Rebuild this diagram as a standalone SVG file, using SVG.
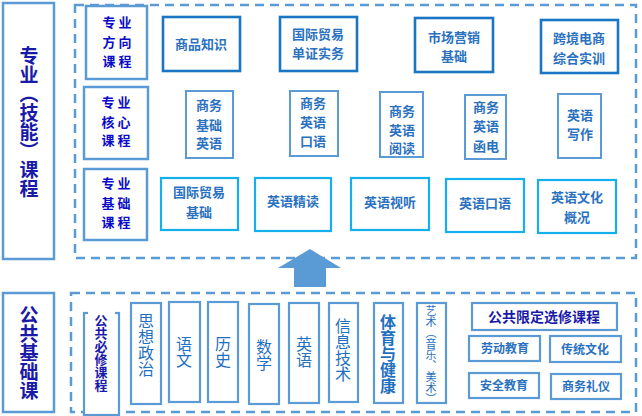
<svg xmlns="http://www.w3.org/2000/svg" width="642" height="416" viewBox="0 0 642 416">
<style>
text{font-family:"Noto Sans CJK SC","Noto Sans",sans-serif;}
.big{font-size:19px;font-weight:bold;fill:#1a1aa8;writing-mode:vertical-rl;text-anchor:middle;letter-spacing:0px;}
.lab{font-size:13px;font-weight:bold;fill:#0a0ac8;text-anchor:middle;}
.c{font-size:13px;font-weight:bold;fill:#2a72c0;text-anchor:middle;}
.v{font-size:16px;fill:#1f70c0;writing-mode:vertical-rl;text-anchor:middle;}
.vs{font-size:11px;fill:#1f70c0;writing-mode:vertical-rl;text-anchor:middle;}
.lb{fill:#fff;stroke:#5b9bd5;stroke-width:2.5;}
.r1{fill:#fff;stroke:#1a75c2;stroke-width:2.6;}
.r2{fill:#fff;stroke:#5b9bd5;stroke-width:2;}
.r3{fill:#fff;stroke:#14b0ee;stroke-width:2.2;}
.dash{fill:none;stroke:#5b9bd5;stroke-width:2.5;stroke-dasharray:9 6;}
.sb{fill:#fff;stroke:#5b9bd5;stroke-width:2.2;}
</style>

<g id="frames">
<rect class="dash" x="75" y="5" width="561" height="253"/>
<rect class="dash" x="71" y="293" width="565" height="119"/>
</g>

<g id="left-top">
<rect class="lb" x="3" y="3" width="51" height="256"/>
<text class="big" x="29" y="122">专业（技能）课程</text>
</g>

<g id="left-bottom">
<rect class="lb" x="3" y="293" width="51" height="119"/>
<text class="big" x="29" y="353">公共基础课</text>
</g>

<g id="label-fangxiang">
<rect class="lb" x="86" y="6" width="61" height="73"/>
<text class="lab" x="117" y="27">专  业</text>
<text class="lab" x="117" y="47">方  向</text>
<text class="lab" x="117" y="66">课  程</text>
</g>
<g id="label-hexin">
<rect class="lb" x="84" y="87" width="64" height="72"/>
<text class="lab" x="116" y="107">专  业</text>
<text class="lab" x="116" y="127">核  心</text>
<text class="lab" x="116" y="145">课  程</text>
</g>
<g id="label-jichu">
<rect class="lb" x="84" y="169" width="63" height="71"/>
<text class="lab" x="116" y="188">专  业</text>
<text class="lab" x="116" y="208">基  础</text>
<text class="lab" x="116" y="227">课  程</text>
</g>

<g id="spzs"><rect class="r1" x="163" y="17" width="77" height="54"/><text class="c" x="201" y="49">商品知识</text></g>
<g id="gjmy-dzsw"><rect class="r1" x="280" y="17" width="77" height="54"/><text class="c" x="318" y="39">国际贸易</text><text class="c" x="318" y="58">单证实务</text></g>
<g id="scyx"><rect class="r1" x="415" y="18" width="78" height="54"/><text class="c" x="454" y="42">市场营销</text><text class="c" x="454" y="61">基础</text></g>
<g id="kjds"><rect class="r1" x="541" y="20" width="77" height="53"/><text class="c" x="579" y="43">跨境电商</text><text class="c" x="579" y="63">综合实训</text></g>

<g id="swjcyy"><rect class="r2" x="186" y="91" width="47" height="67"/><text class="c" x="209" y="110">商务</text><text class="c" x="209" y="130">基础</text><text class="c" x="209" y="148">英语</text></g>
<g id="swyyky"><rect class="r2" x="290" y="91" width="48" height="65"/><text class="c" x="313" y="108">商务</text><text class="c" x="313" y="127">英语</text><text class="c" x="313" y="146">口语</text></g>
<g id="swyyyd"><rect class="r2" x="380" y="92" width="43" height="65"/><text class="c" x="402" y="116">商务</text><text class="c" x="402" y="135">英语</text><text class="c" x="402" y="153">阅读</text></g>
<g id="swyyhd"><rect class="r2" x="465" y="95" width="41" height="64"/><text class="c" x="486" y="112">商务</text><text class="c" x="486" y="131">英语</text><text class="c" x="486" y="151">函电</text></g>
<g id="yyxz"><rect class="r2" x="558" y="94" width="43" height="64"/><text class="c" x="580" y="120">英语</text><text class="c" x="580" y="139">写作</text></g>

<g id="gjmyjc"><rect class="r3" x="161" y="178" width="77" height="52"/><text class="c" x="199" y="197">国际贸易</text><text class="c" x="199" y="217">基础</text></g>
<g id="yyjd"><rect class="r3" x="255" y="178" width="76" height="53"/><text class="c" x="293" y="206">英语精读</text></g>
<g id="yyst"><rect class="r3" x="351" y="178" width="78" height="52"/><text class="c" x="390" y="207">英语视听</text></g>
<g id="yyky"><rect class="r3" x="446" y="179" width="78" height="53"/><text class="c" x="485" y="208">英语口语</text></g>
<g id="yywh"><rect class="r3" x="538" y="180" width="78" height="53"/><text class="c" x="577" y="202">英语文化</text><text class="c" x="577" y="222">概况</text></g>

<g id="connectors">
<polygon points="310,249 341,268 326,268 326,287 294,287 294,268 278,268" fill="#5b9bd5"/>
</g>

<g id="gongbixiu">
<rect class="sb" x="84" y="313" width="35" height="102"/>
<rect x="88" y="310" width="27" height="6" fill="#fff"/>
<text x="101" y="353" style="font-size:13px;font-weight:bold;fill:#1a1aa8;writing-mode:vertical-rl;text-anchor:middle;">公共必修课程</text>
</g>

<g id="sxzz"><rect class="sb" x="131" y="303" width="30" height="101"/><text class="v" x="146" y="345">思想政治</text></g>
<g id="yw"><rect class="sb" x="169" y="302" width="31" height="100"/><text class="v" x="184" y="352">语文</text></g>
<g id="ls"><rect class="sb" x="208" y="302" width="30" height="100"/><text class="v" x="223" y="352">历史</text></g>
<g id="sx"><rect class="sb" x="249" y="304" width="30" height="100"/><text class="v" x="264" y="355">数学</text></g>
<g id="yy"><rect class="sb" x="289" y="303" width="30" height="100"/><text class="v" x="304" y="352">英语</text></g>
<g id="xxjs"><rect class="sb" x="329" y="303" width="29" height="99"/><text class="v" x="343" y="350">信息技术</text></g>
<g id="tyjk"><rect class="sb" x="374" y="303" width="29" height="100"/><text class="v" x="388" y="354" style="font-weight:bold">体育与健康</text></g>
<g id="ys"><rect class="sb" x="417" y="303" width="29" height="100"/><text class="vs" x="431" y="355">艺术（音乐、美术）</text></g>

<g id="gxxx"><rect class="sb" x="472" y="303" width="145" height="27"/><text x="544" y="322" style="font-size:14px;font-weight:bold;fill:#1a1aa8;text-anchor:middle;">公共限定选修课程</text></g>
<g id="ldjy"><rect class="sb" x="469" y="336" width="71" height="25"/><text class="c" x="505" y="353" style="font-size:12px">劳动教育</text></g>
<g id="ctwh"><rect class="sb" x="550" y="336" width="71" height="26"/><text class="c" x="585" y="354" style="font-size:12px">传统文化</text></g>
<g id="aqjy"><rect class="sb" x="469" y="373" width="70" height="25"/><text class="c" x="504" y="390" style="font-size:12px">安全教育</text></g>
<g id="swly"><rect class="sb" x="551" y="374" width="70" height="25"/><text class="c" x="586" y="391" style="font-size:12px">商务礼仪</text></g>
</svg>
